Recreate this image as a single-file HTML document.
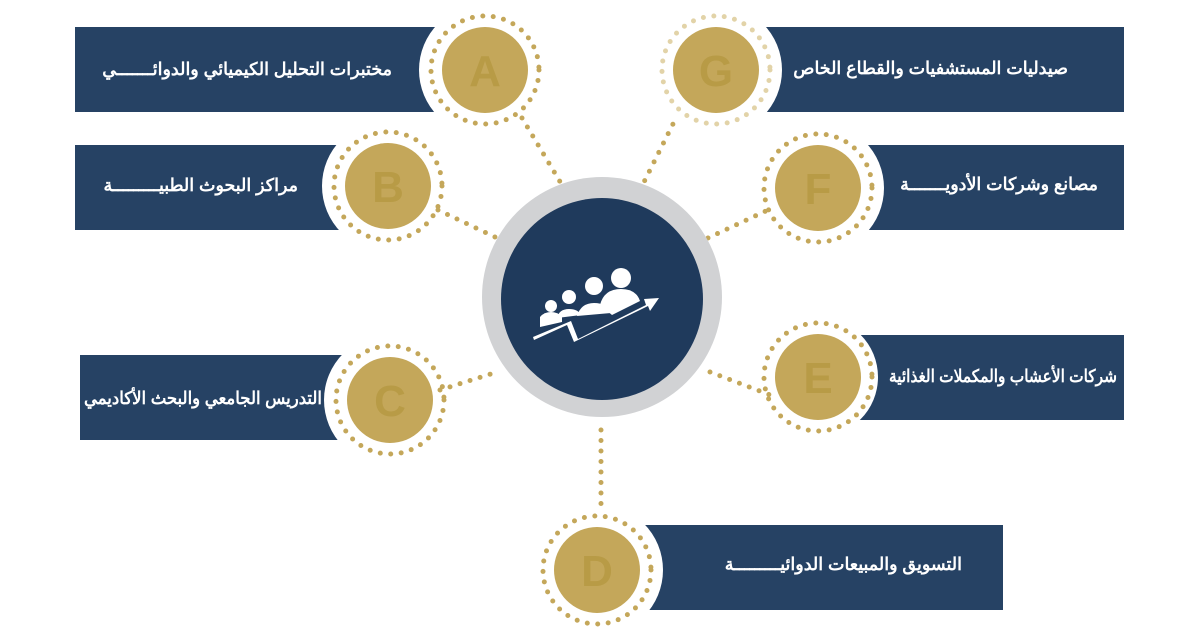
<!DOCTYPE html>
<html><head><meta charset="utf-8"><style>
body{margin:0;background:#fff;}
svg{display:block}
text.t{font-family:"Liberation Sans","Noto Sans CJK SC",sans-serif;font-weight:bold;font-size:17.5px;fill:#fff}
text.l{font-family:"Liberation Sans",sans-serif;font-weight:bold;font-size:44px;fill:#b89b46}
</style></head><body>
<svg width="1200" height="639" viewBox="0 0 1200 639" xmlns="http://www.w3.org/2000/svg">
<g fill="#264264">
<rect x="75" y="27" width="380" height="85"/>
<rect x="75" y="145" width="290" height="85"/>
<rect x="80" y="355" width="280" height="85"/>
<rect x="620" y="525" width="383" height="85"/>
<rect x="840" y="335" width="284" height="85"/>
<rect x="840" y="145" width="284" height="85"/>
<rect x="745" y="27" width="379" height="85"/>
</g>
<g fill="#fff">
<circle cx="485" cy="70" r="66"/><circle cx="388" cy="186" r="66"/><circle cx="390" cy="400" r="66"/>
<circle cx="597" cy="570" r="66"/><circle cx="818" cy="377" r="60"/><circle cx="818" cy="188" r="66"/><circle cx="716" cy="70" r="66"/>
</g>
<g fill="none" stroke="#c4a75a" stroke-width="5" stroke-linecap="round" stroke-dasharray="0 10.5">
<circle cx="485" cy="70" r="54"/><circle cx="388" cy="186" r="54"/><circle cx="390" cy="400" r="54"/>
<circle cx="597" cy="570" r="54"/><circle cx="818" cy="377" r="54"/><circle cx="818" cy="188" r="54"/>
<circle cx="716" cy="70" r="54" stroke="#e2d3a8"/>
<line x1="522" y1="118" x2="565" y2="190"/>
<line x1="438" y1="210" x2="497" y2="238"/>
<line x1="440" y1="390" x2="497" y2="372"/>
<line x1="601" y1="430" x2="601" y2="510"/>
<line x1="710" y1="372" x2="770" y2="395"/>
<line x1="708" y1="238" x2="768" y2="210"/>
<line x1="640" y1="190" x2="676" y2="118"/>
</g>
<g fill="#c4a75a">
<circle cx="485" cy="70" r="43"/><circle cx="388" cy="186" r="43"/><circle cx="390" cy="400" r="43"/>
<circle cx="597" cy="570" r="43"/><circle cx="818" cy="377" r="43"/><circle cx="818" cy="188" r="43"/><circle cx="716" cy="70" r="43"/>
</g>
<g text-anchor="middle">
<text class="l" x="485" y="86">A</text><text class="l" x="388" y="202">B</text><text class="l" x="390" y="416">C</text>
<text class="l" x="597" y="586">D</text><text class="l" x="818" y="393">E</text><text class="l" x="818" y="204">F</text><text class="l" x="716" y="86">G</text>
</g>
<circle cx="602" cy="297" r="120" fill="#d1d2d4"/>
<circle cx="602" cy="299" r="101" fill="#1f3a5c"/>
<g fill="#fff">
<circle cx="551" cy="306" r="6"/><path d="M540 327 v-10 q4-5 11-5 q7 0 11 5 v5z"/>
<circle cx="569" cy="297" r="7"/><path d="M557 318 q2-9 12-9 q9 0 12 6 z"/>
<circle cx="594" cy="286" r="9"/><path d="M577 316 q4-13 17-13 q13 0 17 10 z"/>
<circle cx="621" cy="278" r="10"/><path d="M600 305 q4-16 21-16 q15 0 19 12 l-28 14z"/>
<path d="M533 337 l38-16 l7 18 l68-34 l-2-6 l15-1 l-9 13 l-2-5 l-74 36 l-7-17 l-33 15z"/>
</g>
<g text-anchor="end">
<text class="t" x="392" y="75">مختبرات التحليل الكيميائي والدوائـــــــي</text>
<text class="t" x="298" y="191">مراكز البحوث الطبيـــــــــة</text>
<text class="t" x="322" y="404" textLength="238" lengthAdjust="spacingAndGlyphs">التدريس الجامعي والبحث الأكاديمي</text>
<text class="t" x="962" y="570">التسويق والمبيعات الدوائيـــــــــة</text>
<text class="t" x="1117" y="382" textLength="228" lengthAdjust="spacingAndGlyphs">شركات الأعشاب والمكملات الغذائية</text>
<text class="t" x="1098" y="190">مصانع وشركات الأدويـــــــة</text>
<text class="t" x="1068" y="74">صيدليات المستشفيات والقطاع الخاص</text>
</g>
</svg>
</body></html>
